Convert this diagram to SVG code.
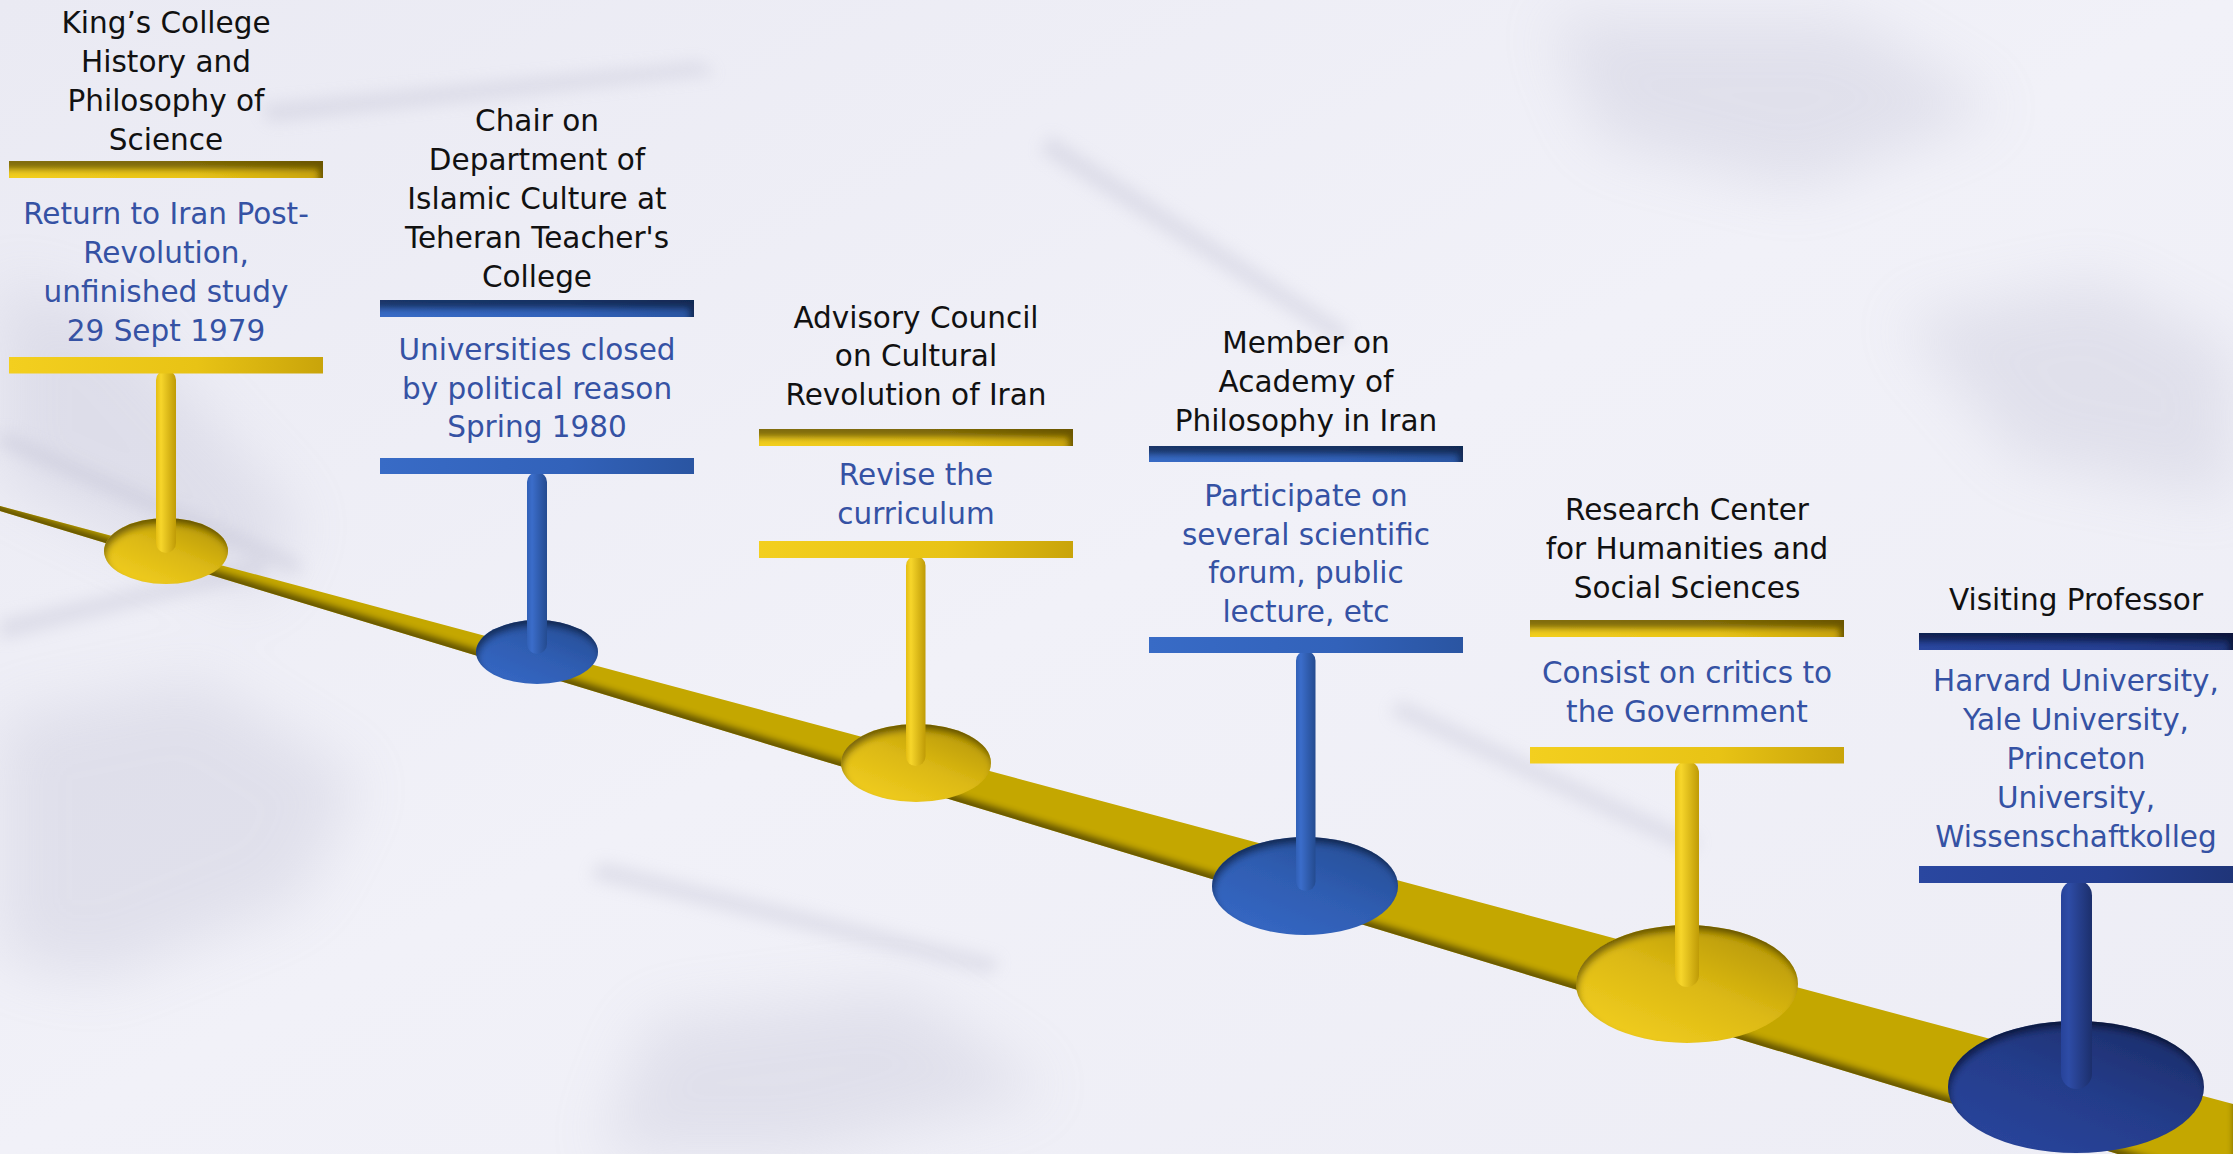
<svg xmlns="http://www.w3.org/2000/svg" width="2233" height="1154" viewBox="0 0 2233 1154">
<defs>
<style>
.t{font-family:"DejaVu Sans","Liberation Sans",sans-serif;font-size:29.5px;fill:#111111;text-anchor:middle}
.d{font-family:"DejaVu Sans","Liberation Sans",sans-serif;font-size:29.5px;fill:#3552a4;text-anchor:middle}
</style>
<linearGradient id="bg" x1="0" y1="0" x2="1" y2="1">
<stop offset="0" stop-color="#eaeaf3"/><stop offset="0.5" stop-color="#f1f1f8"/><stop offset="1" stop-color="#ededf5"/>
</linearGradient>
<filter id="soft" x="-50%" y="-50%" width="200%" height="200%"><feGaussianBlur stdDeviation="30"/></filter>
<filter id="soft2" x="-50%" y="-50%" width="200%" height="200%"><feGaussianBlur stdDeviation="8"/></filter>
<filter id="inE" x="-10%" y="-10%" width="120%" height="120%">
<feOffset in="SourceAlpha" dx="2" dy="6" result="o"/>
<feGaussianBlur in="o" stdDeviation="3.5" result="b"/>
<feComposite operator="out" in="SourceAlpha" in2="b" result="inv"/>
<feFlood flood-color="#000" flood-opacity="0.75"/>
<feComposite operator="in" in2="inv" result="sh"/>
<feComposite operator="over" in="sh" in2="SourceGraphic"/>
</filter>
<filter id="inBand" x="-5%" y="-20%" width="110%" height="140%">
<feOffset in="SourceAlpha" dx="0" dy="-7" result="o"/>
<feGaussianBlur in="o" stdDeviation="3" result="b"/>
<feComposite operator="out" in="SourceAlpha" in2="b" result="inv"/>
<feFlood flood-color="#000" flood-opacity="0.75"/>
<feComposite operator="in" in2="inv" result="sh"/>
<feComposite operator="over" in="sh" in2="SourceGraphic"/>
</filter>
<filter id="inBar" x="-5%" y="-50%" width="110%" height="200%">
<feOffset in="SourceAlpha" dx="-5" dy="9" result="o"/>
<feGaussianBlur in="o" stdDeviation="3" result="b"/>
<feComposite operator="out" in="SourceAlpha" in2="b" result="inv"/>
<feFlood flood-color="#000" flood-opacity="0.75"/>
<feComposite operator="in" in2="inv" result="sh"/>
<feComposite operator="over" in="sh" in2="SourceGraphic"/>
</filter>
<linearGradient id="yBar" x1="0" y1="0" x2="1" y2="0"><stop offset="0" stop-color="#f3cf1f"/><stop offset="0.6" stop-color="#e8c315"/><stop offset="1" stop-color="#c9a40a"/></linearGradient>
<linearGradient id="yStem" x1="0" y1="0" x2="1" y2="0"><stop offset="0" stop-color="#e4bd12"/><stop offset="0.25" stop-color="#f7d62b"/><stop offset="1" stop-color="#bf9b06"/></linearGradient>
<linearGradient id="yEll" x1="0.1" y1="1" x2="0.9" y2="0"><stop offset="0" stop-color="#f4d020"/><stop offset="0.5" stop-color="#dcb914"/><stop offset="1" stop-color="#b09200"/></linearGradient>
<linearGradient id="bBar" x1="0" y1="0" x2="1" y2="0"><stop offset="0" stop-color="#386bc6"/><stop offset="0.6" stop-color="#3262ba"/><stop offset="1" stop-color="#2a55a2"/></linearGradient>
<linearGradient id="bStem" x1="0" y1="0" x2="1" y2="0"><stop offset="0" stop-color="#3160b6"/><stop offset="0.25" stop-color="#3b6dca"/><stop offset="1" stop-color="#244b90"/></linearGradient>
<linearGradient id="bEll" x1="0.1" y1="1" x2="0.9" y2="0"><stop offset="0" stop-color="#3669c6"/><stop offset="0.5" stop-color="#2f5db2"/><stop offset="1" stop-color="#264c92"/></linearGradient>
<linearGradient id="nBar" x1="0" y1="0" x2="1" y2="0"><stop offset="0" stop-color="#2a47a0"/><stop offset="0.6" stop-color="#253f92"/><stop offset="1" stop-color="#1f3579"/></linearGradient>
<linearGradient id="nStem" x1="0" y1="0" x2="1" y2="0"><stop offset="0" stop-color="#27439a"/><stop offset="0.25" stop-color="#2e4ca6"/><stop offset="1" stop-color="#1c2f6c"/></linearGradient>
<linearGradient id="nEll" x1="0.1" y1="1" x2="0.9" y2="0"><stop offset="0" stop-color="#2a469e"/><stop offset="0.5" stop-color="#243c8a"/><stop offset="1" stop-color="#1b2c66"/></linearGradient>
</defs>

<g id="background">
<rect x="0" y="0" width="2233" height="1154" fill="url(#bg)"/>
<g filter="url(#soft)" fill="#a9a9c2" opacity="0.22">
<polygon points="0,280 120,320 300,520 260,600 0,480"/>
<polygon points="0,720 200,680 360,780 300,900 100,980 0,960"/>
<polygon points="1550,20 1850,20 2000,110 1800,190 1600,140"/>
<polygon points="650,1020 900,990 1050,1090 800,1154 600,1154"/>
<polygon points="1900,320 2100,280 2233,350 2233,500 2020,460"/>
</g>
<g filter="url(#soft2)" fill="#b0b0c6" opacity="0.28">
<polygon points="0,430 300,560 300,576 0,446"/>
<polygon points="260,105 700,62 716,74 270,122"/>
<polygon points="1050,135 1350,330 1340,344 1040,152"/>
<polygon points="1400,700 1700,840 1690,854 1390,714"/>
<polygon points="600,862 1000,960 990,974 590,878"/>
<polygon points="0,620 260,560 268,574 0,640"/>
</g>
</g>

<g id="connectors">
<polygon id="timeline-band" points="0,506 2233,1104 2233,1189 0,511" fill="#c4a700" filter="url(#inBand)"/>
</g>

<g id="node1">
<ellipse cx="166" cy="551" rx="62" ry="33" fill="url(#yEll)" filter="url(#inE)"/>
<rect x="156" y="370" width="20" height="183" rx="10" fill="url(#yStem)"/>
<rect x="9" y="161" width="314" height="17" fill="url(#yBar)" filter="url(#inBar)"/>
<rect x="9" y="357" width="314" height="16.5" fill="url(#yBar)"/>
<text class="t"><tspan x="166" y="33">King’s College</tspan><tspan x="166" y="72">History and</tspan><tspan x="166" y="111">Philosophy of</tspan><tspan x="166" y="150">Science</tspan></text>
<text class="d"><tspan x="166" y="224">Return to Iran Post-</tspan><tspan x="166" y="263">Revolution,</tspan><tspan x="166" y="302">unfinished study</tspan><tspan x="166" y="341">29 Sept 1979</tspan></text>
</g>

<g id="node2">
<ellipse cx="537" cy="652" rx="61" ry="32" fill="url(#bEll)" filter="url(#inE)"/>
<rect x="527" y="472" width="20" height="182" rx="10" fill="url(#bStem)"/>
<rect x="380" y="300" width="314" height="17" fill="url(#bBar)" filter="url(#inBar)"/>
<rect x="380" y="458" width="314" height="16" fill="url(#bBar)"/>
<text class="t"><tspan x="537" y="131">Chair on</tspan><tspan x="537" y="170">Department of</tspan><tspan x="537" y="209">Islamic Culture at</tspan><tspan x="537" y="248">Teheran Teacher's</tspan><tspan x="537" y="287">College</tspan></text>
<text class="d"><tspan x="537" y="360">Universities closed</tspan><tspan x="537" y="399">by political reason</tspan><tspan x="537" y="437">Spring 1980</tspan></text>
</g>

<g id="node3">
<ellipse cx="916" cy="763" rx="75" ry="39" fill="url(#yEll)" filter="url(#inE)"/>
<rect x="906" y="556" width="19.5" height="210" rx="9.75" fill="url(#yStem)"/>
<rect x="759" y="429" width="314" height="17" fill="url(#yBar)" filter="url(#inBar)"/>
<rect x="759" y="541" width="314" height="17" fill="url(#yBar)"/>
<text class="t"><tspan x="916" y="328">Advisory Council</tspan><tspan x="916" y="366">on Cultural</tspan><tspan x="916" y="405">Revolution of Iran</tspan></text>
<text class="d"><tspan x="916" y="485">Revise the</tspan><tspan x="916" y="524">curriculum</tspan></text>
</g>

<g id="node4">
<ellipse cx="1305" cy="886" rx="93" ry="49" fill="url(#bEll)" filter="url(#inE)"/>
<rect x="1296" y="651" width="19.5" height="240" rx="9.75" fill="url(#bStem)"/>
<rect x="1149" y="446" width="314" height="16" fill="url(#bBar)" filter="url(#inBar)"/>
<rect x="1149" y="637" width="314" height="16" fill="url(#bBar)"/>
<text class="t"><tspan x="1306" y="353">Member on</tspan><tspan x="1306" y="392">Academy of</tspan><tspan x="1306" y="431">Philosophy in Iran</tspan></text>
<text class="d"><tspan x="1306" y="506">Participate on</tspan><tspan x="1306" y="545">several scientific</tspan><tspan x="1306" y="583">forum, public</tspan><tspan x="1306" y="622">lecture, etc</tspan></text>
</g>

<g id="node5">
<ellipse cx="1687" cy="984" rx="111" ry="59" fill="url(#yEll)" filter="url(#inE)"/>
<rect x="1675" y="761" width="24" height="226" rx="12" fill="url(#yStem)"/>
<rect x="1530" y="620" width="314" height="17" fill="url(#yBar)" filter="url(#inBar)"/>
<rect x="1530" y="747" width="314" height="16.5" fill="url(#yBar)"/>
<text class="t"><tspan x="1687" y="520">Research Center</tspan><tspan x="1687" y="559">for Humanities and</tspan><tspan x="1687" y="598">Social Sciences</tspan></text>
<text class="d"><tspan x="1687" y="683">Consist on critics to</tspan><tspan x="1687" y="722">the Government</tspan></text>
</g>

<g id="node6">
<ellipse cx="2076" cy="1087" rx="128" ry="66" fill="url(#nEll)" filter="url(#inE)"/>
<rect x="2061" y="880" width="31" height="209" rx="15.5" fill="url(#nStem)"/>
<rect x="1919" y="633" width="314" height="17" fill="url(#nBar)" filter="url(#inBar)"/>
<rect x="1919" y="866" width="314" height="17" fill="url(#nBar)"/>
<text class="t"><tspan x="2076" y="610">Visiting Professor</tspan></text>
<text class="d"><tspan x="2076" y="691">Harvard University,</tspan><tspan x="2076" y="730">Yale University,</tspan><tspan x="2076" y="769">Princeton</tspan><tspan x="2076" y="808">University,</tspan><tspan x="2076" y="847">Wissenschaftkolleg</tspan></text>
</g>
</svg>
